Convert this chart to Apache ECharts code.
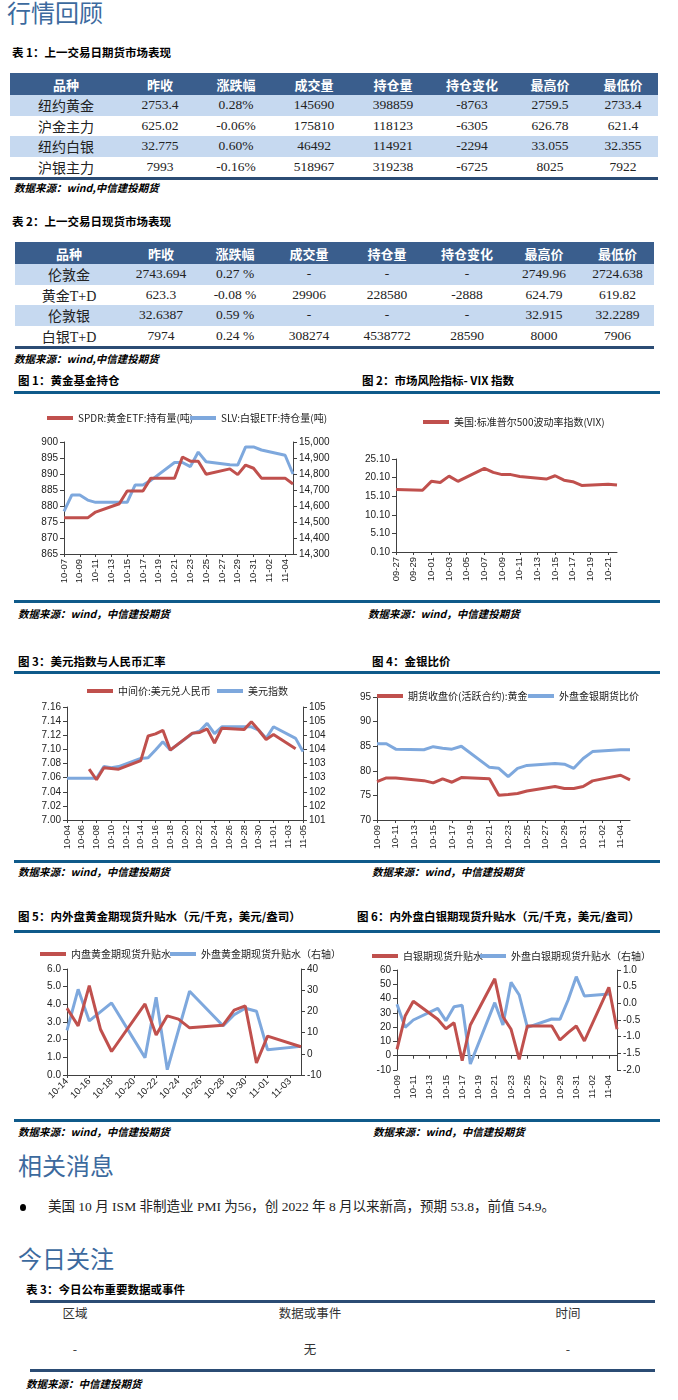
<!DOCTYPE html>
<html><head><meta charset="utf-8">
<script src="https://cdn.jsdelivr.net/npm/echarts/dist/echarts.min.js"></script>
<style>
body{margin:0;width:678px;height:1400px;position:relative;background:#fff;overflow:hidden;font-family:"Liberation Serif","Noto Sans CJK SC",serif;color:#000}
.a{position:absolute;white-space:nowrap;transform:translateY(-50%);line-height:1.2}
.h1{font-family:"Noto Sans CJK SC",sans-serif;font-size:24px;color:#3c6a9e;letter-spacing:0px}
.tt{font-family:"Noto Sans CJK SC",sans-serif;font-weight:bold;font-size:11.5px}
.src{font-family:"Noto Sans CJK SC",sans-serif;font-weight:bold;font-style:italic;font-size:10.5px}
.rule{position:absolute;height:3px;background:#0f5a8a}
.rule2{position:absolute;height:2.5px;background:#2b4c74}
table{border-collapse:collapse;table-layout:fixed;position:absolute}
td{padding:0;text-align:center;white-space:nowrap;font-size:13.5px;font-family:"Liberation Serif","Noto Sans CJK SC",serif;color:#222}
td.nm{font-size:14px;font-family:"Liberation Serif","Noto Sans CJK SC",serif}
tr.hd td{background:#3a5e8d;color:#fff;font-weight:bold;font-family:"Noto Sans CJK SC",sans-serif;font-size:13px}
tr.lb td{background:#c6d9f0}
.chart{position:absolute}
</style></head>
<body>
<div id="page"></div>
<script>
// ---------- table data ----------
const tHead = ['品种','昨收','涨跌幅','成交量','持仓量','持仓变化','最高价','最低价'];
const t1Names = ['纽约黄金','沪金主力','纽约白银','沪银主力'];
const t1Prev  = ['2753.4','625.02','32.775','7993'];
const t1Chg   = ['0.28%','-0.06%','0.60%','-0.16%'];
const t1Vol   = ['145690','175810','46492','518967'];
const t1OI    = ['398859','118123','114921','319238'];
const t1OIChg = ['-8763','-6305','-2294','-6725'];
const t1High  = ['2759.5','626.78','33.055','8025'];
const t1Low   = ['2733.4','621.4','32.355','7922'];

const t2Names = ['伦敦金','黄金T+D','伦敦银','白银T+D'];
const t2Prev  = ['2743.694','623.3','32.6387','7974'];
const t2Chg   = ['0.27 %','-0.08 %','0.59 %','0.24 %'];
const t2Vol   = ['-','29906','-','308274'];
const t2OI    = ['-','228580','-','4538772'];
const t2OIChg = ['-','-2888','-','28590'];
const t2High  = ['2749.96','624.79','32.915','8000'];
const t2Low   = ['2724.638','619.82','32.2289','7906'];

const t3Head = ['区域','数据或事件','时间'];
const t3Row  = ['-','无','-'];

// ---------- chart data ----------
const c1Dates = ['10-07','10-08','10-09','10-10','10-11','10-12','10-13','10-14','10-15','10-16','10-17','10-18','10-19','10-20','10-21','10-22','10-23','10-24','10-25','10-26','10-27','10-28','10-29','10-30','10-31','11-01','11-02','11-03','11-04','11-05'];
const c1Spdr = [876.3,876.3,876.3,876.3,878.1,null,null,880.7,884.7,884.7,884.7,888.7,null,null,888.7,895.3,894.0,894.0,889.9,null,null,891.6,889.8,892.8,891.8,888.7,null,null,888.7,886.9];
const c1Slv  = [14567,14669,14669,14637,14623,null,null,14623,14623,14731,14731,14760,null,null,14872,14872,14846,14937,14877,null,null,14858,14856,14969,14969,14950,null,null,14917,14800];

const c2Dates = ['09-27','09-28','09-29','09-30','10-01','10-02','10-03','10-04','10-05','10-06','10-07','10-08','10-09','10-10','10-11','10-12','10-13','10-14','10-15','10-16','10-17','10-18','10-19','10-20','10-21','10-22'];
const c2Vix = [16.9,null,null,16.7,19.1,18.8,20.5,19.1,null,null,22.6,21.5,20.9,20.9,20.4,null,null,19.7,20.6,19.4,19.0,18.0,null,null,18.3,18.1];

const c3Dates = ['10-04','10-05','10-06','10-07','10-08','10-09','10-10','10-11','10-12','10-13','10-14','10-15','10-16','10-17','10-18','10-19','10-20','10-21','10-22','10-23','10-24','10-25','10-26','10-27','10-28','10-29','10-30','10-31','11-01','11-02','11-03','11-04','11-05'];
const c3Cny = [null,null,null,7.072,7.057,7.074,7.073,7.072,null,null,7.084,7.119,7.122,7.127,7.099,null,null,7.123,7.124,7.129,7.109,7.130,null,null,7.128,7.139,7.127,7.114,7.121,null,null,7.101,null];
const c3Dxy = [102.48,null,null,102.48,102.48,102.89,102.85,102.89,null,null,103.18,103.20,103.48,103.77,103.48,null,null,104.06,104.15,104.42,104.06,104.30,null,null,104.30,104.30,104.18,103.89,104.30,null,null,103.89,103.42];

const c4Dates = ['10-09','10-10','10-11','10-12','10-13','10-14','10-15','10-16','10-17','10-18','10-19','10-20','10-21','10-22','10-23','10-24','10-25','10-26','10-27','10-28','10-29','10-30','10-31','11-01','11-02','11-03','11-04','11-05'];
const c4Shfe = [77.8,78.55,78.55,null,null,78.0,77.54,78.36,77.68,78.63,null,null,78.4,75.03,75.16,75.4,75.9,null,null,76.8,76.4,76.4,76.8,77.95,null,null,79.1,78.15];
const c4Comex = [85.5,85.5,84.4,null,null,84.27,84.9,84.6,84.4,85.0,null,null,80.7,80.5,78.8,80.5,81.1,null,null,81.5,81.35,80.5,82.5,83.9,null,null,84.27,84.27];

const c5Dates = ['10-14','10-15','10-16','10-17','10-18','10-19','10-20','10-21','10-22','10-23','10-24','10-25','10-26','10-27','10-28','10-29','10-30','10-31','11-01','11-02','11-03','11-04'];
const c5Dom = [3.78,2.78,5.06,2.59,1.33,null,null,4.02,2.27,3.35,3.16,2.67,null,null,2.82,3.67,3.91,0.68,2.2,null,null,1.6];
const c5For = [11.0,30.4,15.5,null,24.0,null,null,-1.8,26.7,-7.5,null,29.5,null,null,13.2,18.4,21.5,20.1,1.9,null,null,3.5];

const c6Dates = c4Dates;
const c6Dom = [4.5,27.8,38.1,null,null,25.5,18.9,23.1,-3.5,21.5,null,null,53.9,27.3,18.5,-2.5,20.8,null,null,20.8,11.0,16.1,20.8,10.3,null,null,47.9,18.5];
const c6For = [-0.03,-0.72,-0.5,null,null,-0.15,-0.52,-0.1,-0.06,-1.82,null,null,0.02,-0.65,0.63,0.25,-0.72,null,null,-0.47,-0.48,0.1,0.8,0.22,null,null,0.28,null];

// ---------- layout helpers ----------
const page = document.getElementById('page');
function txt(s, x, y, cls, extra){
  const d = document.createElement('div');
  d.className = 'a ' + (cls||'');
  d.textContent = s; d.style.left = x + 'px'; d.style.top = y + 'px';
  if (extra) Object.assign(d.style, extra);
  page.appendChild(d); return d;
}
function ctxt(s, cx, y, cls, extra){
  const d = txt(s, cx, y, cls, extra);
  d.style.transform = 'translate(-50%,-50%)'; return d;
}
function rule(x, y, w, cls){
  const d = document.createElement('div'); d.className = cls||'rule';
  d.style.left = x+'px'; d.style.top = y+'px'; d.style.width = w+'px';
  page.appendChild(d);
}
function table(x, y, widths, head, cols){
  const t = document.createElement('table');
  t.style.left = x+'px'; t.style.top = y+'px';
  t.style.width = widths.reduce((a,b)=>a+b,0)+'px';
  const cg = document.createElement('colgroup');
  widths.forEach(w=>{const c=document.createElement('col');c.style.width=w+'px';cg.appendChild(c);});
  t.appendChild(cg);
  const hr = document.createElement('tr'); hr.className='hd'; hr.style.height='22px';
  head.forEach(h=>{const td=document.createElement('td');td.textContent=h;hr.appendChild(td);});
  t.appendChild(hr);
  for (let i=0;i<cols[0].length;i++){
    const r = document.createElement('tr'); r.style.height='20.5px';
    if (i%2===0) r.className='lb';
    cols.forEach((c,j)=>{const td=document.createElement('td');td.textContent=c[i];if(j===0)td.className='nm';r.appendChild(td);});
    t.appendChild(r);
  }
  page.appendChild(t);
  return t;
}

// ---------- top text & tables ----------
txt('行情回顾', 7, 12, 'h1');
txt('表 1：上一交易日期货市场表现', 12, 53, 'tt');
table(10, 73, [112,76,76,80,78,80,76,70], tHead, [t1Names,t1Prev,t1Chg,t1Vol,t1OI,t1OIChg,t1High,t1Low]);
rule(10, 177, 648, 'rule2');
txt('数据来源：wind,中信建投期货', 14, 188, 'src');

txt('表 2：上一交易日现货市场表现', 12, 222, 'tt');
table(15, 242, [108,76,72,76,80,80,74,73], tHead, [t2Names,t2Prev,t2Chg,t2Vol,t2OI,t2OIChg,t2High,t2Low]);
rule(15, 346, 639, 'rule2');
txt('数据来源：wind,中信建投期货', 14, 359, 'src');

// chart section titles
txt('图 1：黄金基金持仓', 18, 381, 'tt');
txt('图 2：市场风险指标- VIX 指数', 362, 381, 'tt');
rule(14, 391, 646);
rule(14, 600, 646);
txt('数据来源：wind，中信建投期货', 18, 614, 'src');
txt('数据来源：wind，中信建投期货', 368, 614, 'src');

txt('图 3：美元指数与人民币汇率', 18, 662, 'tt');
txt('图 4：金银比价', 372, 662, 'tt');
rule(14, 671, 646);
rule(14, 860, 646);
txt('数据来源：wind，中信建投期货', 18, 872, 'src');
txt('数据来源：wind，中信建投期货', 372, 872, 'src');

txt('图 5：内外盘黄金期现货升贴水（元/千克，美元/盎司）', 18, 917, 'tt');
txt('图 6：内外盘白银期现货升贴水（元/千克，美元/盎司）', 357, 917, 'tt');
rule(14, 930, 646);
rule(14, 1119, 646);
txt('数据来源：wind，中信建投期货', 18, 1132, 'src');
txt('数据来源：wind，中信建投期货', 373, 1132, 'src');

txt('相关消息', 18, 1165, 'h1');
const dot = document.createElement('div');
Object.assign(dot.style,{position:'absolute',left:'20px',top:'1204px',width:'6px',height:'7px',borderRadius:'50%',background:'#000'});
page.appendChild(dot);
txt('美国 10 月 ISM 非制造业 PMI 为56，创 2022 年 8 月以来新高，预期 53.8，前值 54.9。', 48, 1207, '', {fontSize:'13.5px',color:'#222'});
txt('今日关注', 18, 1258, 'h1');
txt('表 3：今日公布重要数据或事件', 26, 1290, 'tt');
rule(30, 1300, 625, 'rule2');
const t3x = [75, 310, 568];
t3Head.forEach((h,i)=>ctxt(h, t3x[i], 1312, '', {fontSize:'12.5px',color:'#333',fontFamily:'"Noto Sans CJK SC",sans-serif'}));
t3Row.forEach((h,i)=>ctxt(h, t3x[i], 1348, '', {fontSize:'12.5px',color:'#333',fontFamily:'"Noto Sans CJK SC",sans-serif'}));
rule(30, 1369, 625, 'rule2');
txt('数据来源：中信建投期货', 26, 1384, 'src');

// ---------- charts ----------
const RED = '#c0504d', BLUE = '#7ea8dd';
const AX = '#404040';
const LBL = {color:'#222', fontSize:10, fontFamily:'"Liberation Sans","Noto Sans CJK SC",sans-serif'};
function mkChart(x, y, w, h){
  const d = document.createElement('div'); d.className='chart';
  Object.assign(d.style,{left:x+'px',top:y+'px',width:w+'px',height:h+'px'});
  page.appendChild(d);
  return echarts.init(d, null, {renderer:'canvas'});
}
function leg(name, left, top){
  return {data:[name], left:left, top:top, icon:'rect', itemWidth:26, itemHeight:4, itemGap:4,
    textStyle:{color:'#222', fontSize:10, fontFamily:'"Noto Sans CJK SC",sans-serif'}, padding:0};
}
function xCat(data, rotate, interval){
  return {type:'category', data:data, boundaryGap:false,
    axisLine:{lineStyle:{color:AX}}, axisTick:{show:true, interval:interval, length:3, lineStyle:{color:AX}},
    axisLabel:Object.assign({}, LBL, {rotate:rotate, interval:interval, fontSize:9.5, margin:5})};
}
function yVal(min, max, interval, fmt, pos){
  return {type:'value', min:min, max:max, interval:interval, position:pos||'left',
    axisLine:{show:true, lineStyle:{color:AX}}, axisTick:{show:true, length:4, lineStyle:{color:AX}},
    splitLine:{show:false}, axisLabel:Object.assign({}, LBL, {formatter:fmt, margin:6})};
}
function ln(name, data, color, yi){
  return {name:name, type:'line', data:data, yAxisIndex:yi||0, connectNulls:true, symbol:'none',
    lineStyle:{width:3, color:color}, itemStyle:{color:color}, z: color===RED?3:2};
}
const thousands = v => String(Math.round(v)).replace(/\B(?=(\d{3})+(?!\d))/g, ',');

// Chart 1
mkChart(0, 395, 340, 205).setOption({
  animation:false,
  grid:{left:64, top:47, width:229, height:112},
  legend:[leg('SPDR:黄金ETF:持有量(吨)', 47, 18), leg('SLV:白银ETF:持仓量(吨)', 190, 18)],
  xAxis: xCat(c1Dates, 90, 1),
  yAxis:[yVal(865, 900, 5, v=>v), yVal(14300, 15000, 100, thousands, 'right')],
  series:[ln('SPDR:黄金ETF:持有量(吨)', c1Spdr, RED, 0), ln('SLV:白银ETF:持仓量(吨)', c1Slv, BLUE, 1)]
});

// Chart 2
mkChart(340, 395, 338, 205).setOption({
  animation:false,
  grid:{left:56, top:64, width:221, height:93},
  legend:[leg('美国:标准普尔500波动率指数(VIX)', 83, 22)],
  xAxis: xCat(c2Dates, 90, 1),
  yAxis:[yVal(0.1, 25.1, 5, v=>v.toFixed(2))],
  series:[ln('美国:标准普尔500波动率指数(VIX)', c2Vix, RED, 0)]
});

// Chart 3
mkChart(0, 675, 340, 180).setOption({
  animation:false,
  grid:{left:67, top:32, width:236, height:113},
  legend:[leg('中间价:美元兑人民币', 87, 11), leg('美元指数', 217, 11)],
  xAxis: xCat(c3Dates, 90, 1),
  yAxis:[yVal(7.00, 7.16, 0.02, v=>v.toFixed(2)), yVal(101, 105, 0.5, v=>String(Math.round(v)), 'right')],
  series:[ln('中间价:美元兑人民币', c3Cny, RED, 0), ln('美元指数', c3Dxy, BLUE, 1)]
});

// Chart 4
mkChart(340, 675, 338, 180).setOption({
  animation:false,
  grid:{left:37, top:22, width:253, height:123},
  legend:[leg('期货收盘价(活跃合约):黄金', 37, 16), leg('外盘金银期货比价', 188, 16)],
  xAxis: xCat(c4Dates, 90, 1),
  yAxis:[yVal(70, 95, 5, v=>v)],
  series:[ln('期货收盘价(活跃合约):黄金', c4Shfe, RED, 0), ln('外盘金银期货比价', c4Comex, BLUE, 0)]
});

// Chart 5
mkChart(0, 935, 340, 185).setOption({
  animation:false,
  grid:{left:67, top:34, width:234, height:106},
  legend:[leg('内盘黄金期现货升贴水', 40, 14), leg('外盘黄金期现货升贴水（右轴）', 170, 14)],
  xAxis: xCat(c5Dates, 45, 1),
  yAxis:[yVal(0, 6, 1, v=>v.toFixed(1)), yVal(-10, 40, 10, v=>v, 'right')],
  series:[ln('内盘黄金期现货升贴水', c5Dom, RED, 0), ln('外盘黄金期现货升贴水（右轴）', c5For, BLUE, 1)]
});

// Chart 6
mkChart(340, 935, 338, 185).setOption({
  animation:false,
  grid:{left:57, top:35, width:220, height:100},
  legend:[leg('白银期现货升贴水', 32, 16), leg('外盘白银期现货升贴水（右轴）', 140, 16)],
  xAxis: xCat(c6Dates, 90, 1),
  yAxis:[yVal(-10, 60, 10, v=>v), yVal(-2, 1, 0.5, v=>v.toFixed(1), 'right')],
  series:[ln('白银期现货升贴水', c6Dom, RED, 0), ln('外盘白银期现货升贴水（右轴）', c6For, BLUE, 1)]
});
</script>
</body></html>
